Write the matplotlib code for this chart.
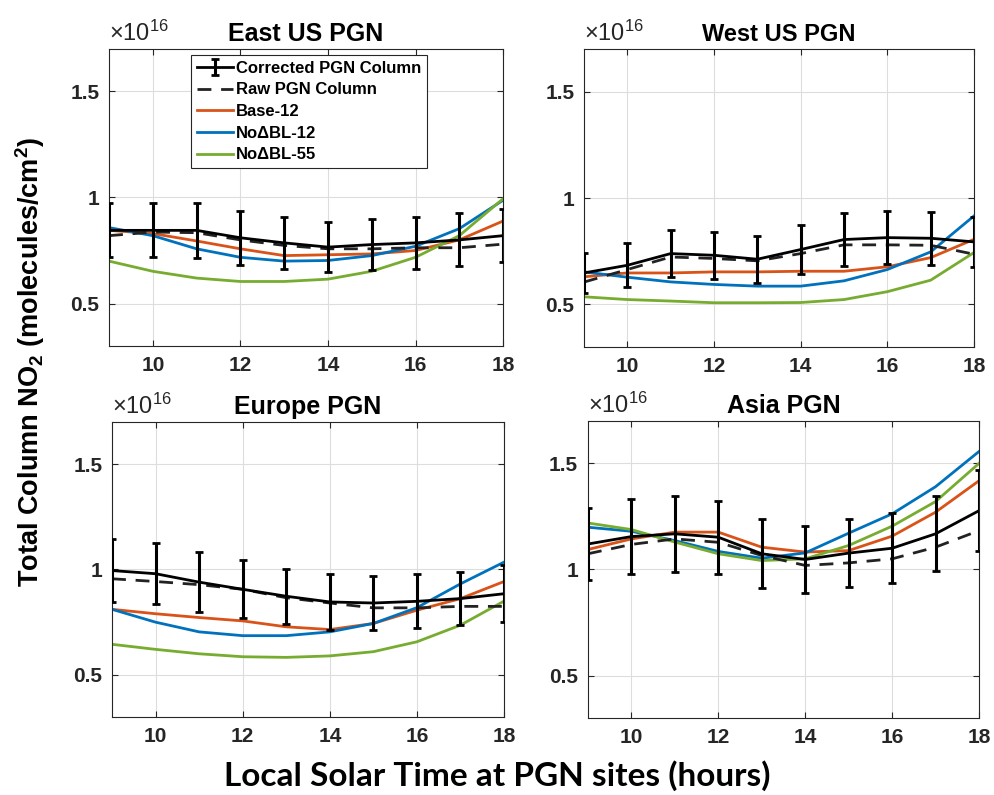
import matplotlib
matplotlib.use("Agg")
import matplotlib.pyplot as plt
import numpy as np

plt.rcParams["font.family"] = ["Liberation Sans", "DejaVu Sans"]
plt.rcParams["font.weight"] = "bold"
plt.rcParams["mathtext.fontset"] = "custom"
plt.rcParams["mathtext.rm"] = "Liberation Sans:normal"
plt.rcParams["mathtext.bf"] = "Liberation Sans:bold"

hours = np.arange(9, 19)

# values in units of 1e16 molecules/cm2
east_corr = [0.845, 0.845, 0.845, 0.81, 0.786, 0.766, 0.778, 0.786, 0.80, 0.82]
east_err = [0.127, 0.127, 0.128, 0.126, 0.122, 0.119, 0.12, 0.121, 0.125, 0.125]
east_raw = [0.82, 0.837, 0.834, 0.80, 0.774, 0.758, 0.758, 0.763, 0.763, 0.78]
east_base12 = [0.845, 0.83, 0.795, 0.758, 0.726, 0.73, 0.734, 0.75, 0.80, 0.889]
east_nobl12 = [0.858, 0.82, 0.758, 0.718, 0.70, 0.703, 0.726, 0.77, 0.853, 0.987]
east_nobl55 = [0.70, 0.652, 0.62, 0.604, 0.604, 0.615, 0.652, 0.718, 0.82, 0.994]

west_corr = [0.648, 0.684, 0.739, 0.731, 0.7125, 0.758, 0.805, 0.814, 0.811, 0.794]
west_err = [0.096, 0.103, 0.11, 0.11, 0.111, 0.116, 0.123, 0.124, 0.124, 0.118]
west_raw = [0.605, 0.664, 0.723, 0.716, 0.705, 0.739, 0.78, 0.78, 0.778, 0.736]
west_base12 = [0.63, 0.648, 0.648, 0.653, 0.653, 0.656, 0.656, 0.677, 0.72, 0.806]
west_nobl12 = [0.653, 0.628, 0.606, 0.594, 0.586, 0.586, 0.611, 0.664, 0.747, 0.916]
west_nobl55 = [0.536, 0.523, 0.516, 0.508, 0.508, 0.509, 0.523, 0.56, 0.614, 0.744]

eu_corr = [0.995, 0.98, 0.94, 0.906, 0.873, 0.846, 0.841, 0.849, 0.862, 0.885]
eu_err = [0.151, 0.145, 0.141, 0.138, 0.13, 0.131, 0.128, 0.128, 0.127, 0.136]
eu_raw = [0.956, 0.943, 0.928, 0.906, 0.866, 0.841, 0.818, 0.818, 0.825, 0.825]
eu_base12 = [0.811, 0.79, 0.772, 0.756, 0.728, 0.715, 0.744, 0.807, 0.862, 0.943]
eu_nobl12 = [0.811, 0.75, 0.704, 0.686, 0.686, 0.704, 0.744, 0.819, 0.932, 1.035]
eu_nobl55 = [0.645, 0.621, 0.60, 0.586, 0.583, 0.59, 0.61, 0.657, 0.736, 0.85]

asia_corr = [1.12, 1.155, 1.168, 1.152, 1.074, 1.047, 1.077, 1.10, 1.168, 1.277]
asia_err = [0.168, 0.175, 0.178, 0.172, 0.162, 0.158, 0.162, 0.165, 0.177, 0.192]
asia_raw = [1.074, 1.118, 1.144, 1.128, 1.066, 1.019, 1.031, 1.05, 1.105, 1.183]
asia_base12 = [1.094, 1.144, 1.176, 1.176, 1.105, 1.082, 1.089, 1.157, 1.27, 1.418]
asia_nobl12 = [1.199, 1.18, 1.136, 1.085, 1.053, 1.078, 1.171, 1.262, 1.39, 1.556]
asia_nobl55 = [1.219, 1.188, 1.129, 1.074, 1.042, 1.05, 1.113, 1.204, 1.32, 1.50]

panels = [
    ("East US PGN", east_corr, east_err, east_raw, east_base12, east_nobl12, east_nobl55),
    ("West US PGN", west_corr, west_err, west_raw, west_base12, west_nobl12, west_nobl55),
    ("Europe PGN", eu_corr, eu_err, eu_raw, eu_base12, eu_nobl12, eu_nobl55),
    ("Asia PGN", asia_corr, asia_err, asia_raw, asia_base12, asia_nobl12, asia_nobl55),
]

positions = [
    [0.1097, 0.5648, 0.3964, 0.3736],
    [0.5875, 0.5635, 0.3924, 0.3748],
    [0.1127, 0.0981, 0.3944, 0.3711],
    [0.5915, 0.0969, 0.3934, 0.3736],
]

c_orange = "#D95319"
c_blue = "#0072BD"
c_green = "#77AC30"

fig = plt.figure(figsize=(9.94, 7.95), dpi=100)

for i, (title, corr, err, raw, b12, n12, n55) in enumerate(panels):
    ax = fig.add_axes(positions[i])
    h_corr = ax.errorbar(hours, corr, yerr=err, color="black", lw=2, capsize=3,
                         capthick=2, elinewidth=2.2, label="Corrected PGN Column", zorder=5)
    h_raw, = ax.plot(hours, raw, color="#222222", lw=2, ls=(0, (5, 3.5)),
                     label="Raw PGN Column", zorder=4)
    h_b12, = ax.plot(hours, b12, color=c_orange, lw=2, label="Base-12")
    h_n12, = ax.plot(hours, n12, color=c_blue, lw=2, label="NoΔBL-12")
    h_n55, = ax.plot(hours, n55, color=c_green, lw=2, label="NoΔBL-55")

    ax.set_xlim(9, 18)
    ax.set_ylim(0.3, 1.7)
    ax.set_xticks([10, 12, 14, 16, 18])
    ax.set_yticks([0.5, 1, 1.5])
    ax.set_yticklabels(["0.5", "1", "1.5"])
    ax.grid(True, color="#dddddd", lw=0.8)
    ax.set_axisbelow(True)
    ax.tick_params(direction="in", top=True, right=True, length=4, width=0.8,
                   labelsize=15, colors="#262626", pad=7)
    for lab in ax.get_xticklabels() + ax.get_yticklabels():
        lab.set_fontweight("bold")
    for sp in ax.spines.values():
        sp.set_color("#262626")
        sp.set_linewidth(0.8)

    fs = 17 if title.startswith("West") else 18
    ax.set_title(title, fontsize=fs, fontweight="bold", pad=6)
    ax.text(0.0, 1.01, r"$\times\mathrm{10^{16}}$", transform=ax.transAxes,
            ha="left", va="bottom", fontsize=17, color="#262626", fontweight="normal")

    if i == 0:
        leg = ax.legend([h_corr, h_raw, h_b12, h_n12, h_n55],
                        ["Corrected PGN Column", "Raw PGN Column", "Base-12",
                         "NoΔBL-12", "NoΔBL-55"],
                        loc="upper left", bbox_to_anchor=(0.208, 0.98), borderaxespad=0,
                        prop={"weight": "bold", "size": 12}, handlelength=2.2,
                        handletextpad=0.15, labelspacing=0.4, borderpad=0.35,
                        fancybox=False, framealpha=1, edgecolor="#262626")
        leg.get_frame().set_linewidth(0.8)

fig.text(0.5, 0.025, "Local Solar Time at PGN sites (hours)", ha="center", va="center",
         fontsize=24, fontweight="bold", family=["Lato", "DejaVu Sans"])
fig.text(0.03, 0.545, r"Total Column NO$\mathregular{_2}$ (molecules/cm$\mathregular{^2}$)",
         ha="center", va="center", rotation=90, fontsize=19.5, fontweight="bold")

fig.savefig("out.png", dpi=100)
